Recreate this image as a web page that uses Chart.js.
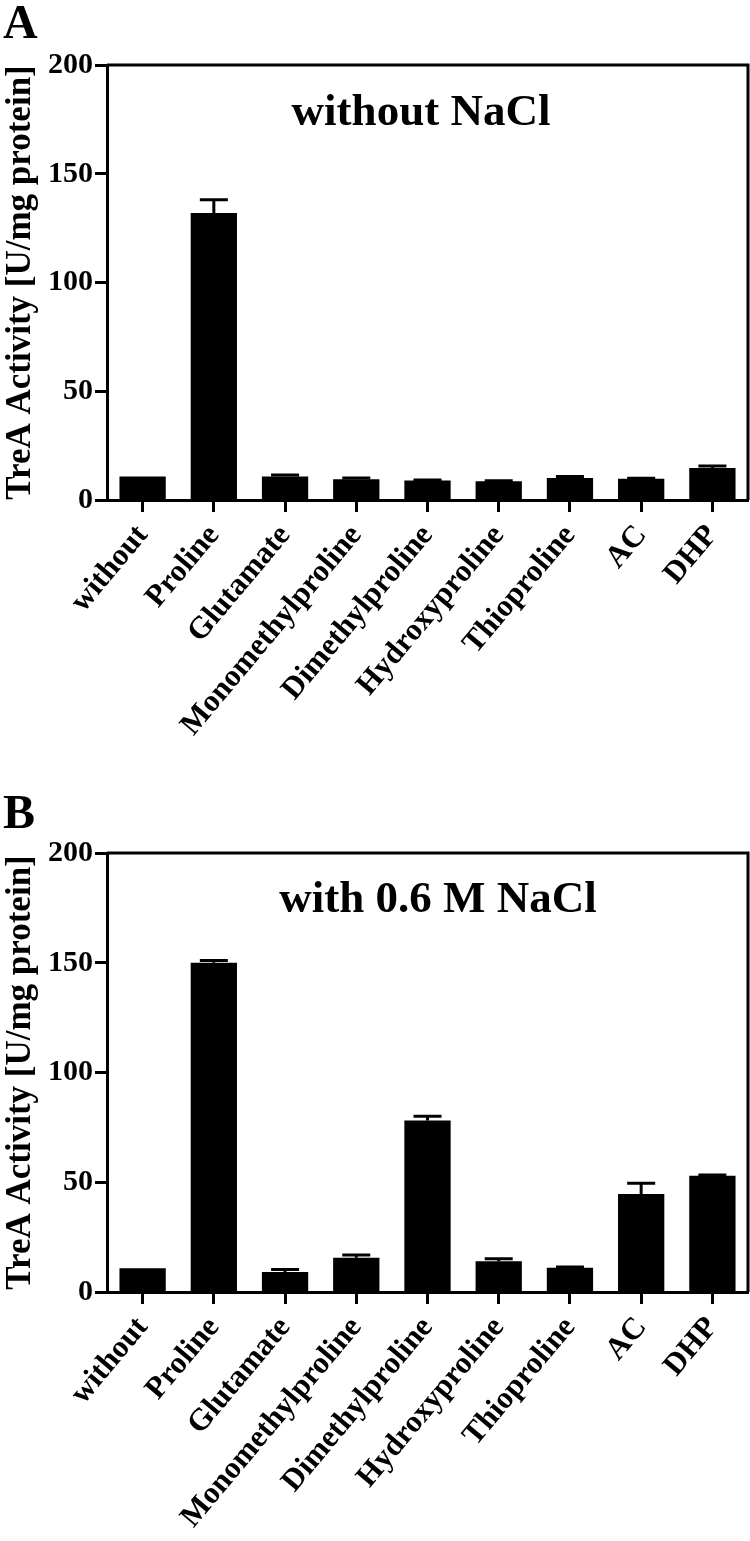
<!DOCTYPE html>
<html>
<head>
<meta charset="utf-8">
<script src="https://cdn.jsdelivr.net/npm/chart.js@4.4.0/dist/chart.umd.min.js"></script>
<style>
  body { margin: 0; background: #fff; width: 750px; height: 1541px; position: relative; overflow: hidden; }
  .panel { position: absolute; left: 0; width: 750px; }
  .letra { position: absolute; left: 3px; font: bold 48px "Liberation Serif", serif; color: #000; line-height: 1; }
</style>
</head>
<body>
<div class="panel" style="top:0;height:770px"><canvas id="chartA" width="750" height="770"></canvas></div>
<div class="panel" style="top:770px;height:771px"><canvas id="chartB" width="750" height="771"></canvas></div>
<div class="letra" style="top:-2px">A</div>
<div class="letra" style="top:788px">B</div>
<script>
// datos
const categorias = ["without", "Proline", "Glutamate", "Monomethylproline", "Dimethylproline", "Hydroxyproline", "Thioproline", "AC", "DHP"];
const sinNaCl = [10.8, 132, 10.8, 9.5, 9.0, 8.6, 10.1, 9.8, 14.7];
const sinNaClError = [0, 6, 0.7, 0.6, 0.2, 0.3, 0.7, 0.2, 0.9];
const conNaCl = [10.8, 150, 9.1, 15.6, 78.1, 14.0, 11.0, 44.6, 53.0];
const conNaClError = [0, 1, 1.1, 1.2, 2, 1.2, 0.4, 5, 0.3];
const ticksY = [0, 50, 100, 150, 200];

const fuente = "'Liberation Serif', 'Times New Roman', serif";

// barras de error (solo la parte superior), marco superior/derecho y titulo
const pluginExtra = {
  id: "extra",
  afterDatasetsDraw(chart, args, opts) {
    const ctx = chart.ctx;
    const yScale = chart.scales.y;
    const meta = chart.getDatasetMeta(0);
    const valores = chart.data.datasets[0].data;
    ctx.save();
    ctx.strokeStyle = "#000";
    ctx.lineWidth = 3;
    meta.data.forEach((bar, i) => {
      const err = opts.errores[i];
      if (!err) return;
      const yTop = yScale.getPixelForValue(valores[i] + err);
      ctx.beginPath();
      ctx.moveTo(bar.x, bar.y);
      ctx.lineTo(bar.x, yTop);
      ctx.moveTo(bar.x - 14, yTop);
      ctx.lineTo(bar.x + 14, yTop);
      ctx.stroke();
    });
    const area = chart.chartArea;
    ctx.beginPath();
    ctx.moveTo(area.left, area.top);
    ctx.lineTo(area.right, area.top);
    ctx.lineTo(area.right, area.bottom);
    ctx.stroke();
    ctx.fillStyle = "#000";
    ctx.font = "bold 45px " + fuente;
    ctx.textAlign = "center";
    ctx.textBaseline = "alphabetic";
    ctx.fillText(opts.titulo, opts.tituloX, area.top + opts.tituloDy);
    ctx.restore();
  }
};

function crearGrafico(id, datos, errores, titulo, tituloX, tituloDy, arriba, altoX) {
  const ctx = document.getElementById(id).getContext("2d");
  return new Chart(ctx, {
    type: "bar",
    data: {
      labels: categorias,
      datasets: [{
        data: datos,
        backgroundColor: "#000",
        barPercentage: 0.65,
        categoryPercentage: 1
      }]
    },
    options: {
      responsive: false,
      animation: false,
      layout: { padding: { top: arriba, right: 2, left: 0, bottom: 0 } },
      plugins: {
        legend: { display: false },
        tooltip: { enabled: false },
        extra: { errores: errores, titulo: titulo, tituloX: tituloX, tituloDy: tituloDy }
      },
      scales: {
        x: {
          offset: true,
          border: { color: "#000", width: 3 },
          grid: { offset: false, drawOnChartArea: false, color: "#000", tickLength: 12, tickWidth: 3 },
          ticks: { color: "#000", font: { family: fuente, size: 31, weight: "bold" }, minRotation: 50, maxRotation: 50, padding: 6, autoSkip: false },
          afterFit: (scale) => { scale.height = altoX; }
        },
        y: {
          min: 0,
          max: 200,
          border: { color: "#000", width: 3 },
          grid: { drawOnChartArea: false, color: "#000", tickLength: 12, tickWidth: 3 },
          afterBuildTicks: (scale) => { scale.ticks = ticksY.map((v) => ({ value: v })); },
          ticks: { color: "#000", font: { family: fuente, size: 30, weight: "bold" }, padding: 2 },
          title: { display: true, text: "TreA Activity [U/mg protein]", color: "#000", font: { family: fuente, size: 35, weight: "bold" }, padding: { top: 0, bottom: 0 } },
          afterFit: (scale) => { scale.width = 107; }
        }
      }
    },
    plugins: [pluginExtra]
  });
}

crearGrafico("chartA", sinNaCl, sinNaClError, "without NaCl", 421, 60, 65, 270);
crearGrafico("chartB", conNaCl, conNaClError, "with 0.6 M NaCl", 438, 59, 83, 249);
</script>
</body>
</html>
